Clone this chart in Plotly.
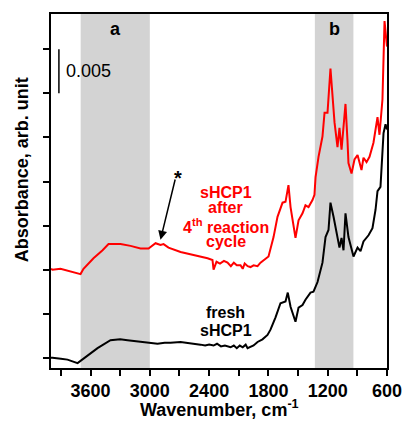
import plotly.graph_objects as go

# ---- data ----
fresh_wn = [4000, 3985, 3900, 3833, 3731, 3681, 3630, 3529, 3398, 3300, 3226, 3150, 3094, 3013,
            2922, 2850, 2791, 2689, 2600, 2487, 2440, 2400, 2355, 2320, 2280, 2240, 2183, 2150,
            2120, 2090, 2060, 2030, 2011, 1980, 1950, 1910, 1860, 1809, 1779, 1728, 1678, 1627,
            1604, 1576, 1526, 1495, 1455, 1425, 1374, 1344, 1303, 1253, 1222, 1192, 1172, 1141,
            1101, 1081, 1060, 1040, 1020, 990, 939, 898, 868, 838, 787, 747, 716, 696, 666, 635,
            615, 600]
fresh_abs = [0.0000, 0.0000, -0.0001, -0.0002, -0.0006, -0.0002, 0.0003, 0.0011, 0.0020, 0.0021,
             0.0020, 0.0019, 0.0018, 0.0017, 0.0016, 0.0017, 0.0017, 0.0018, 0.0017, 0.0015,
             0.0014, 0.0015, 0.0014, 0.0016, 0.0013, 0.0014, 0.0012, 0.0014, 0.0011, 0.0014,
             0.0012, 0.0015, 0.0011, 0.0013, 0.0014, 0.0018, 0.0021, 0.0026, 0.0032, 0.0046,
             0.0062, 0.0064, 0.0074, 0.0058, 0.0041, 0.0057, 0.0060, 0.0066, 0.0074, 0.0075,
             0.0086, 0.0108, 0.0137, 0.0145, 0.0176, 0.0160, 0.0134, 0.0125, 0.0136, 0.0122,
             0.0164, 0.0137, 0.0115, 0.0125, 0.0121, 0.0132, 0.0139, 0.0147, 0.0168, 0.0189,
             0.0194, 0.0255, 0.0265, 0.0259]

used_wn = [4000, 3985, 3904, 3833, 3731, 3701, 3671, 3570, 3478, 3418, 3296, 3195, 3094, 3013,
           2942, 2892, 2861, 2811, 2689, 2558, 2416, 2366, 2355, 2325, 2290, 2250, 2214, 2180,
           2150, 2120, 2082, 2060, 2040, 2010, 1981, 1950, 1910, 1880, 1799, 1748, 1708, 1657,
           1627, 1597, 1576, 1526, 1495, 1455, 1425, 1394, 1354, 1334, 1323, 1293, 1253, 1232,
           1202, 1172, 1151, 1131, 1101, 1081, 1060, 1020, 1000, 990, 959, 929, 898, 858, 838,
           807, 777, 737, 696, 676, 646, 625, 600]
used_abs = [0.0101, 0.0100, 0.0101, 0.0099, 0.0096, 0.0095, 0.0101, 0.0113, 0.0122, 0.0129,
            0.0129, 0.0127, 0.0124, 0.0124, 0.0130, 0.0128, 0.0129, 0.0125, 0.0120, 0.0117,
            0.0113, 0.0111, 0.0100, 0.0109, 0.0107, 0.0110, 0.0108, 0.0104, 0.0108, 0.0105,
            0.0105, 0.0101, 0.0107, 0.0104, 0.0103, 0.0105, 0.0104, 0.0108, 0.0115, 0.0137,
            0.0160, 0.0176, 0.0177, 0.0196, 0.0171, 0.0136, 0.0156, 0.0164, 0.0173, 0.0171,
            0.0179, 0.0185, 0.0205, 0.0228, 0.0251, 0.0278, 0.0278, 0.0328, 0.0300, 0.0267,
            0.0239, 0.0261, 0.0236, 0.0288, 0.0247, 0.0221, 0.0209, 0.0225, 0.0230, 0.0213,
            0.0227, 0.0222, 0.0228, 0.0244, 0.0273, 0.0253, 0.0293, 0.0382, 0.0353]

x_major_ticks = [3600, 3000, 2400, 1800, 1200, 600]
x_minor_ticks = [3900, 3300, 2700, 2100, 1500, 900]
y_ticks = [0, 0.005, 0.010, 0.015, 0.020, 0.025, 0.030, 0.035]
region_a = (3700, 3000)
region_b = (1330, 940)

FONT = "Arial, Liberation Sans, sans-serif"

fig = go.Figure()
fig.add_trace(go.Scatter(x=fresh_wn, y=fresh_abs, mode="lines",
                         line=dict(color="black", width=2), showlegend=False))
fig.add_trace(go.Scatter(x=used_wn, y=used_abs, mode="lines",
                         line=dict(color="#ff0000", width=2), showlegend=False))

for (x0, x1) in (region_a, region_b):
    fig.add_shape(type="rect", xref="x", yref="paper", x0=x0, x1=x1, y0=0, y1=1,
                  fillcolor="#d3d3d3", line=dict(width=0), layer="below")

# scale bar
fig.add_shape(type="line", xref="x", yref="y", x0=3920, x1=3920, y0=0.030, y1=0.035,
              line=dict(color="black", width=1.5))

anns = [
    dict(x=3350, y=0.0373, text="<b>a</b>", color="black", size=18),
    dict(x=1135, y=0.0373, text="<b>b</b>", color="black", size=18),
    dict(x=2230, y=0.0188, text="<b>sHCP1</b>", color="#ff0000", size=16),
    dict(x=2230, y=0.0170, text="<b>after</b>", color="#ff0000", size=16),
    dict(x=2230, y=0.0150, text="<b>4<sup>th</sup> reaction</b>", color="#ff0000", size=16),
    dict(x=2230, y=0.0132, text="<b>cycle</b>", color="#ff0000", size=16),
    dict(x=2230, y=0.0051, text="<b>fresh</b>", color="black", size=16),
    dict(x=2230, y=0.0031, text="<b>sHCP1</b>", color="black", size=16),
    dict(x=2710, y=0.0204, text="<b>*</b>", color="black", size=20),
]
for a in anns:
    fig.add_annotation(x=a["x"], y=a["y"], xref="x", yref="y", text=a["text"],
                       showarrow=False, xanchor="center", yanchor="middle",
                       font=dict(family=FONT, size=a["size"], color=a["color"]))

fig.add_annotation(x=3873, y=0.0325, xref="x", yref="y", text="0.005", showarrow=False,
                   xanchor="left", yanchor="middle",
                   font=dict(family=FONT, size=18, color="black"))

# arrow to the asterisk feature
fig.add_annotation(x=2892, y=0.0134, ax=2740, ay=0.0204, xref="x", yref="y",
                   axref="x", ayref="y", text="", showarrow=True, arrowhead=2,
                   arrowsize=1.2, arrowwidth=1.5, arrowcolor="black")

# axis titles
fig.add_annotation(x=0.5, y=-0.113, xref="paper", yref="paper",
                   text="<b>Wavenumber, cm<sup>-1</sup></b>", showarrow=False,
                   xanchor="center", yanchor="middle",
                   font=dict(family=FONT, size=18, color="black"))
fig.add_annotation(x=-0.086, y=0.559, xref="paper", yref="paper",
                   text="<b>Absorbance, arb. unit</b>", showarrow=False, textangle=-90,
                   xanchor="center", yanchor="middle",
                   font=dict(family=FONT, size=18, color="black"))

fig.update_layout(
    width=404, height=426,
    margin=dict(l=51, r=17, t=14, b=58, autoexpand=False),
    plot_bgcolor="white", paper_bgcolor="white",
    font=dict(family=FONT, color="black"),
)
fig.update_xaxes(range=[4000, 600], tickvals=x_major_ticks, automargin=False,
                 ticks="outside", ticklen=6, tickwidth=1.5, tickcolor="black",
                 tickfont=dict(family=FONT, size=18, color="black", weight="bold"),
                 minor=dict(tickvals=x_minor_ticks, ticks="outside",
                            ticklen=6, tickwidth=1.5, tickcolor="black", showgrid=False),
                 showline=True, linecolor="black", linewidth=1.5, mirror=True,
                 showgrid=False, zeroline=False)
fig.update_yaxes(range=[-0.00115, 0.0390], tickvals=y_ticks, showticklabels=False,
                 automargin=False,
                 ticks="outside", ticklen=6, tickwidth=1.5, tickcolor="black",
                 showline=True, linecolor="black", linewidth=1.5, mirror=True,
                 showgrid=False, zeroline=False)

fig.write_html("out.html", config={"displayModeBar": False},
               post_script="document.body.style.margin='0px';")
